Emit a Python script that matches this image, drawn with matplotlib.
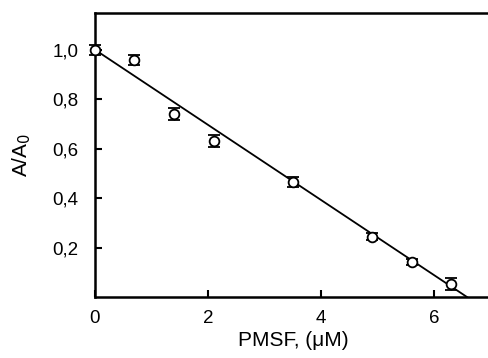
import matplotlib.pyplot as plt
from matplotlib.ticker import FuncFormatter

plt.rcParams['font.family'] = ['Liberation Sans', 'DejaVu Sans']

pmsf = [0.0, 0.7, 1.4, 2.1, 3.5, 4.9, 5.6, 6.3]
activity = [1.0, 0.96, 0.74, 0.63, 0.467, 0.245, 0.143, 0.054]
errors = [0.02, 0.02, 0.025, 0.025, 0.02, 0.015, 0.012, 0.025]

fit_x = [0.0, 6.58]
fit_y = [1.0, 0.0]

fig = plt.figure(figsize=(4.89, 3.58), dpi=100)
ax = fig.add_axes([0.194, 0.170, 0.81, 0.795])

ax.plot(fit_x, fit_y, color='black', lw=1.3, zorder=2)
ax.errorbar(pmsf, activity, yerr=errors, fmt='o', mfc='white', mec='black',
            mew=1.3, ms=7, ecolor='black', elinewidth=1.0, capsize=4,
            capthick=1.2, zorder=3, clip_on=False)

ax.set_xlim(0, 7)
ax.set_ylim(0, 1.15)
ax.set_xticks([0, 2, 4, 6])
ax.set_yticks([0.2, 0.4, 0.6, 0.8, 1.0])
ax.yaxis.set_major_formatter(FuncFormatter(lambda v, p: ('%.1f' % v).replace('.', ',')))
ax.tick_params(direction='in', length=5, width=1.5, labelsize=13.5, pad=9)
ax.tick_params(axis='y', pad=12)

for side in ['left', 'bottom', 'top']:
    ax.spines[side].set_linewidth(1.8)
ax.spines['right'].set_visible(False)

ax.set_xlabel('PMSF, (\u03bcM)', fontsize=15, labelpad=3)
ax.set_ylabel('A/A$_0$', fontsize=15, labelpad=14)

plt.savefig('out.png', dpi=100)
